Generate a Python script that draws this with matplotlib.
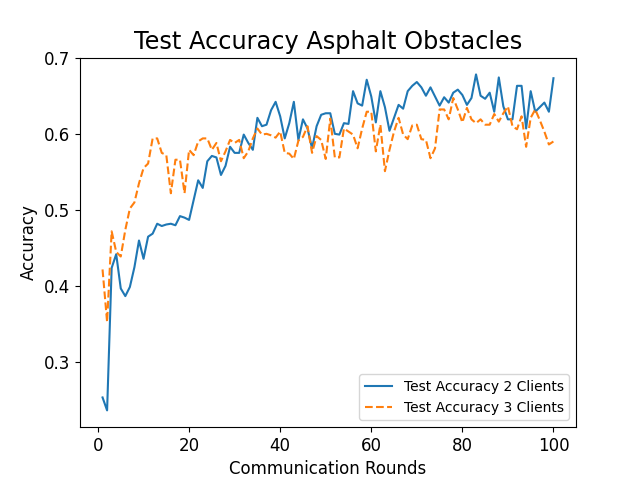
import matplotlib
matplotlib.use("Agg")
import matplotlib.pyplot as plt

rounds = list(range(1, 101))

acc_2_clients = [
    0.254, 0.237, 0.424, 0.442, 0.397, 0.387, 0.399, 0.425, 0.460, 0.436,
    0.465, 0.469, 0.482, 0.479, 0.481, 0.482, 0.480, 0.492, 0.490, 0.487,
    0.513, 0.539, 0.529, 0.564, 0.571, 0.569, 0.546, 0.558, 0.583, 0.575,
    0.575, 0.599, 0.588, 0.579, 0.621, 0.610, 0.612, 0.631, 0.642, 0.623,
    0.594, 0.614, 0.642, 0.592, 0.619, 0.607, 0.581, 0.610, 0.625, 0.627,
    0.627, 0.600, 0.599, 0.614, 0.613, 0.656, 0.640, 0.637, 0.671, 0.649,
    0.615, 0.656, 0.635, 0.604, 0.621, 0.638, 0.633, 0.656, 0.663, 0.668,
    0.661, 0.650, 0.661, 0.649, 0.637, 0.648, 0.641, 0.654, 0.658, 0.651,
    0.638, 0.647, 0.678, 0.650, 0.646, 0.654, 0.629, 0.674, 0.636, 0.619,
    0.619, 0.663, 0.663, 0.607, 0.656, 0.629, 0.635, 0.641, 0.629, 0.673,
]

acc_3_clients = [
    0.422, 0.353, 0.472, 0.445, 0.439, 0.474, 0.502, 0.510, 0.535, 0.555,
    0.561, 0.594, 0.594, 0.575, 0.572, 0.522, 0.566, 0.566, 0.522, 0.579,
    0.572, 0.590, 0.594, 0.594, 0.579, 0.588, 0.564, 0.577, 0.592, 0.588,
    0.592, 0.568, 0.577, 0.594, 0.607, 0.599, 0.600, 0.598, 0.595, 0.603,
    0.575, 0.574, 0.567, 0.591, 0.596, 0.610, 0.575, 0.597, 0.592, 0.567,
    0.620, 0.569, 0.569, 0.607, 0.603, 0.599, 0.581, 0.607, 0.629, 0.629,
    0.577, 0.612, 0.551, 0.579, 0.603, 0.621, 0.599, 0.593, 0.611, 0.612,
    0.593, 0.592, 0.568, 0.581, 0.632, 0.632, 0.619, 0.647, 0.632, 0.615,
    0.634, 0.619, 0.614, 0.619, 0.612, 0.612, 0.626, 0.616, 0.627, 0.636,
    0.610, 0.606, 0.623, 0.583, 0.621, 0.632, 0.618, 0.603, 0.586, 0.590,
]

plt.figure(figsize=(6.4, 4.8), dpi=100)
plt.plot(rounds, acc_2_clients, label='Test Accuracy 2 Clients')
plt.plot(rounds, acc_3_clients, '--', label='Test Accuracy 3 Clients')
plt.title('Test Accuracy Asphalt Obstacles', fontsize=17.28)
plt.xlabel('Communication Rounds', fontsize=12)
plt.ylabel('Accuracy', fontsize=12)
plt.xticks(fontsize=12)
plt.yticks([0.3, 0.4, 0.5, 0.6, 0.7], fontsize=12)
plt.legend(loc='lower right', fontsize=10)
plt.savefig('out.png')
